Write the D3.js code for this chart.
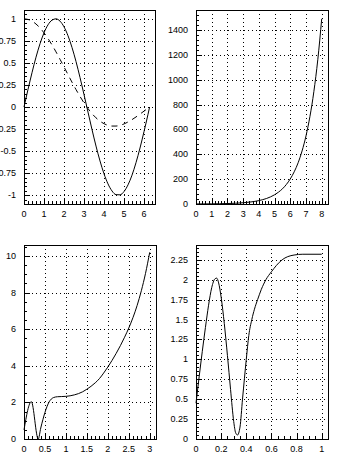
<!DOCTYPE html>
<html><head><meta charset="utf-8">
<script src="https://cdn.jsdelivr.net/npm/d3@7"></script>
<style>
html,body{margin:0;padding:0;background:#fff;}
svg{display:block;}
text{font-family:"Liberation Sans",Arial,Helvetica,sans-serif;font-size:9px;fill:#000;}
</style></head>
<body>
<script>
// ---------- Panel 1: sin(x) (solid) and sin(x)/x (dashed) ----------
const p1X = [0,0.2,0.4,0.6,0.8,1.0,1.2,1.4,1.6,1.8,2.0,2.2,2.4,2.6,2.8,3.0,3.2,3.4,3.6,3.8,4.0,4.2,4.4,4.6,4.8,5.0,5.2,5.4,5.6,5.8,6.0,6.2,6.28];
const p1Solid = [0,0.199,0.389,0.565,0.717,0.841,0.932,0.985,1.0,0.974,0.909,0.808,0.675,0.516,0.335,0.141,-0.058,-0.256,-0.443,-0.612,-0.757,-0.872,-0.952,-0.994,-0.996,-0.959,-0.883,-0.773,-0.631,-0.465,-0.279,-0.083,0];
const p1Dashed = [1,0.993,0.974,0.941,0.897,0.841,0.777,0.704,0.625,0.541,0.455,0.367,0.281,0.198,0.120,0.047,-0.018,-0.075,-0.123,-0.161,-0.189,-0.208,-0.216,-0.216,-0.208,-0.192,-0.170,-0.143,-0.113,-0.080,-0.047,-0.013,0];
const p1XTicks = [0,1,2,3,4,5,6];
const p1XLabels = ["0","1","2","3","4","5","6"];
const p1YTicks = [-1,-0.75,-0.5,-0.25,0,0.25,0.5,0.75,1];
const p1YLabels = ["-1","-0.75","-0.5","-0.25","0","0.25","0.5","0.75","1"];

// ---------- Panel 2: exponential growth ----------
const p2X = [0,0.5,1,1.5,2,2.5,3,3.5,4,4.5,5,5.25,5.5,5.75,6,6.25,6.5,6.75,7,7.25,7.5,7.75,8];
const p2Y = [0.5,0.82,1.36,2.24,3.69,6.09,10.0,16.6,27.3,45.0,74.2,95.3,122,157,202,259,332,427,548,704,904,1161,1490];
const p2XTicks = [0,1,2,3,4,5,6,7,8];
const p2XLabels = ["0","1","2","3","4","5","6","7","8"];
const p2YTicks = [0,200,400,600,800,1000,1200,1400];
const p2YLabels = ["0","200","400","600","800","1000","1200","1400"];

// ---------- Panel 3 ----------
const p3X = [0,0.175,0.34,0.4,0.45,0.5,0.55,0.6,0.65,0.7,0.8,0.9,1.0,1.1,1.2,1.3,1.4,1.5,1.6,1.7,1.8,1.9,2.0,2.1,2.2,2.3,2.4,2.5,2.6,2.7,2.8,2.9,3.0];
const p3Y = [0.5,2.04,0.0,0.6,1.05,1.45,1.78,2.03,2.18,2.26,2.31,2.32,2.33,2.36,2.41,2.48,2.58,2.72,2.88,3.07,3.30,3.60,3.93,4.29,4.68,5.10,5.56,6.06,6.63,7.30,8.10,9.05,10.2];
const p3XTicks = [0,0.5,1,1.5,2,2.5,3];
const p3XLabels = ["0","0.5","1","1.5","2","2.5","3"];
const p3YTicks = [0,2,4,6,8,10];
const p3YLabels = ["0","2","4","6","8","10"];

// ---------- Panel 4 ----------
const p4X = [0,0.025,0.05,0.075,0.1,0.125,0.15,0.165,0.18,0.2,0.225,0.25,0.275,0.3,0.315,0.33,0.35,0.37,0.4,0.42,0.444,0.465,0.49,0.52,0.556,0.6,0.64,0.685,0.73,0.78,0.85,1.0];
const p4Y = [0.45,0.78,1.1,1.4,1.68,1.9,2.01,2.02,1.96,1.78,1.45,1.05,0.62,0.22,0.08,0.05,0.15,0.5,1.0,1.3,1.5,1.63,1.75,1.88,2.0,2.1,2.18,2.25,2.29,2.31,2.32,2.32];
const p4XTicks = [0,0.2,0.4,0.6,0.8,1];
const p4XLabels = ["0","0.2","0.4","0.6","0.8","1"];
const p4YTicks = [0,0.25,0.5,0.75,1,1.25,1.5,1.75,2,2.25];
const p4YLabels = ["0","0.25","0.5","0.75","1","1.25","1.5","1.75","2","2.25"];

const W = 352, H = 470;
const svg = d3.select("body").append("svg").attr("width", W).attr("height", H);

const panels = [
  {box:[24,10,155,204], xd:[0,6.55], yd:[-1.1,1.1], xMinor:0.2, yMinor:0.05,
   xt:p1XTicks, xl:p1XLabels, yt:p1YTicks, yl:p1YLabels,
   series:[{x:p1X,y:p1Solid,dash:null},{x:p1X,y:p1Dashed,dash:"6,5"}]},
  {box:[196,10,328,204], xd:[0,8.4], yd:[0,1561], xMinor:0.2, yMinor:40,
   xt:p2XTicks, xl:p2XLabels, yt:p2YTicks, yl:p2YLabels,
   series:[{x:p2X,y:p2Y,dash:null}]},
  {box:[24,245,156,439], xd:[0,3.15], yd:[0,10.6], xMinor:0.1, yMinor:0.5,
   xt:p3XTicks, xl:p3XLabels, yt:p3YTicks, yl:p3YLabels,
   series:[{x:p3X,y:p3Y,dash:null}]},
  {box:[196,245,328,439], xd:[0,1.05], yd:[0,2.436], xMinor:0.05, yMinor:0.05,
   xt:p4XTicks, xl:p4XLabels, yt:p4YTicks, yl:p4YLabels,
   series:[{x:p4X,y:p4Y,dash:null}]}
];

function range(a, b, step){ const out=[]; const n=Math.floor((b-a)/step+1e-6); for(let i=0;i<=n;i++) out.push(+(a+i*step).toFixed(6)); return out; }

panels.forEach(p => {
  const [L,T,R,B] = p.box;
  const x = d3.scaleLinear().domain(p.xd).range([L,R]);
  const y = d3.scaleLinear().domain(p.yd).range([B,T]);
  const g = svg.append("g");
  const px = v => Math.round(x(v)) + 0.5;
  const py = v => Math.round(y(v)) + 0.5;

  // grid
  g.selectAll(".gx").data(p.xt).join("line")
    .attr("x1", d=>px(d)).attr("x2", d=>px(d)).attr("y1", T).attr("y2", B)
    .attr("stroke","#000").attr("stroke-width",1).attr("stroke-dasharray","1,3");
  g.selectAll(".gy").data(p.yt).join("line")
    .attr("y1", d=>py(d)).attr("y2", d=>py(d)).attr("x1", L).attr("x2", R)
    .attr("stroke","#000").attr("stroke-width",1).attr("stroke-dasharray","1,3");

  // minor ticks
  const xm = range(p.xd[0], p.xd[1], p.xMinor);
  const ym = range(p.yd[0], p.yd[1], p.yMinor);
  g.append("g").selectAll("line").data(xm).join("line")
    .attr("x1", d=>px(d)).attr("x2", d=>px(d)).attr("y1", B).attr("y2", B-3)
    .attr("stroke","#000");
  g.append("g").selectAll("line").data(ym).join("line")
    .attr("y1", d=>py(d)).attr("y2", d=>py(d)).attr("x1", L).attr("x2", L+3)
    .attr("stroke","#000");
  // major ticks
  g.append("g").selectAll("line").data(p.xt).join("line")
    .attr("x1", d=>px(d)).attr("x2", d=>px(d)).attr("y1", B).attr("y2", B-6)
    .attr("stroke","#000");
  g.append("g").selectAll("line").data(p.yt).join("line")
    .attr("y1", d=>py(d)).attr("y2", d=>py(d)).attr("x1", L).attr("x2", L+6)
    .attr("stroke","#000");

  // curves
  p.series.forEach(s => {
    const pts = s.x.map((v,i)=>[v, s.y[i]]);
    const line = d3.line().x(d=>x(d[0])).y(d=>y(d[1])).curve(d3.curveMonotoneX);
    g.append("path").attr("d", line(pts)).attr("fill","none")
      .attr("stroke","#000").attr("stroke-width",1)
      .attr("stroke-dasharray", s.dash);
  });

  // frame
  g.append("rect").attr("x", L+0.5).attr("y", T+0.5).attr("width", R-L).attr("height", B-T)
    .attr("fill","none").attr("stroke","#000").attr("stroke-width",1);

  // labels
  g.selectAll(".xl").data(p.xt).join("text")
    .attr("x", d=>x(d)).attr("y", B+13).attr("text-anchor","middle")
    .text((d,i)=>p.xl[i]);
  g.selectAll(".yl").data(p.yt).join("text")
    .attr("x", L-8).attr("y", d=>y(d)+3).attr("text-anchor","end")
    .text((d,i)=>p.yl[i]);
});
</script>
</body></html>
